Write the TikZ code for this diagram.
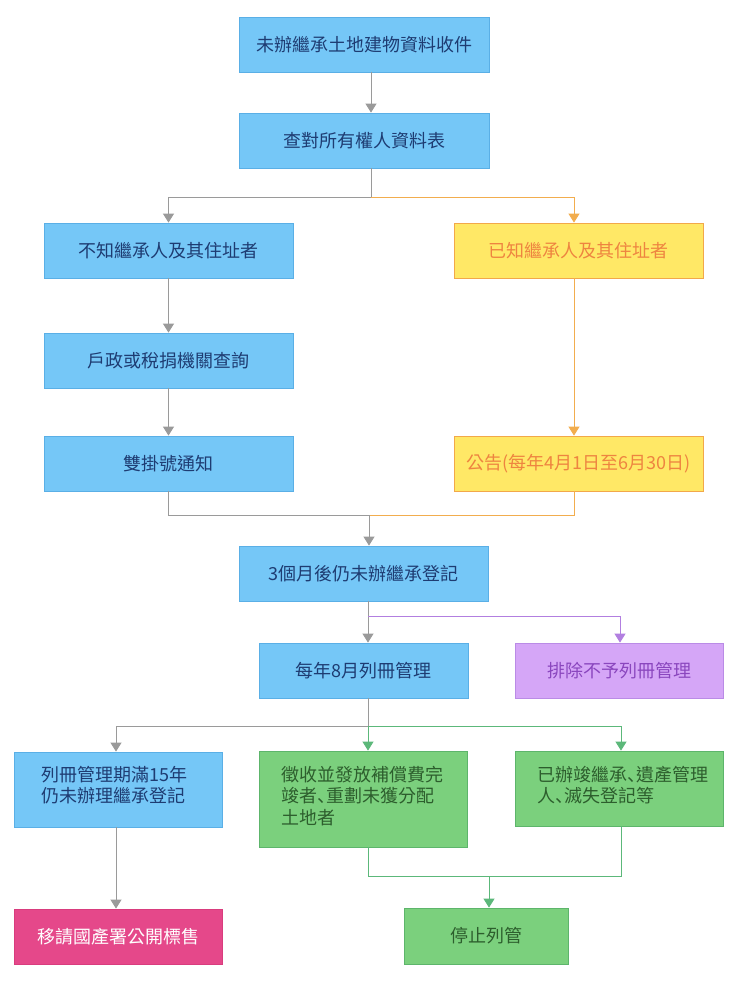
\documentclass[tikz,border=0pt]{standalone}
\usepackage{fontspec}
\setmainfont{Noto Sans CJK TC}
\newfontfamily\scf{Noto Sans CJK SC}
\usetikzlibrary{arrows.meta,calc}
\newcommand\dun{{\scf\makebox[0.5em][l]{、}}}
\definecolor{bfill}{HTML}{75C7F7}
\definecolor{bline}{HTML}{5AAFE6}
\definecolor{btext}{HTML}{1E3C72}
\definecolor{yfill}{HTML}{FFE866}
\definecolor{yline}{HTML}{F2A84A}
\definecolor{ytext}{HTML}{EE8440}
\definecolor{pfill}{HTML}{D5A6F7}
\definecolor{pline}{HTML}{BA8BE6}
\definecolor{ptext}{HTML}{8A46BE}
\definecolor{gfill}{HTML}{7BD07D}
\definecolor{gline}{HTML}{5DB56B}
\definecolor{gtext}{HTML}{2D5E2D}
\definecolor{kfill}{HTML}{E5488A}
\definecolor{kline}{HTML}{D93C7E}
\definecolor{cgray}{HTML}{9A9A9A}
\definecolor{corange}{HTML}{F2AD4E}
\definecolor{cpurple}{HTML}{B27FE0}
\definecolor{cgreen}{HTML}{5CB87A}
\begin{document}
\begin{tikzpicture}[x=1pt,y=-1pt,
  box/.style={draw, rectangle, line width=0.8pt, inner sep=0pt,
    font=\fontsize{18}{21.5}\selectfont},
  sz/.style 2 args={minimum width=#1pt, minimum height=#2pt},
  bluebox/.style={box, fill=bfill, draw=bline, text=btext},
  yelbox/.style={box, fill=yfill, draw=yline, text=ytext},
  purbox/.style={box, fill=pfill, draw=pline, text=ptext},
  grnbox/.style={box, fill=gfill, draw=gline, text=gtext},
  pinkbox/.style={box, fill=kfill, draw=kline, text=white},
  txt/.style={inner sep=0pt, anchor=north west, align=left,
    font=\fontsize{18}{21.5}\selectfont},
  tip/.style={-{Triangle[width=11pt,length=9pt]}},
  con/.style={line width=0.9pt},
  gcon/.style={con, draw=cgray},
  ocon/.style={con, draw=corange},
  pcon/.style={con, draw=cpurple},
  ncon/.style={con, draw=cgreen}]
\path[use as bounding box, fill=white] (0,0) rectangle (740,988);

% nodes
\node[bluebox, sz={250}{55}] (n1) at (364,44.5) {未辦繼承土地建物資料收件};
\node[bluebox, sz={250}{55}] (n2) at (364,140.5) {查對所有權人資料表};
\node[bluebox, sz={249}{55}] (n3) at (168.5,250.5) {不知繼承人及其住址者};
\node[yelbox, sz={249}{55}] (n4) at (578.5,250.5) {已知繼承人及其住址者};
\node[bluebox, sz={249}{55}] (n5) at (168.5,360.5) {戶政或稅捐機關查詢};
\node[bluebox, sz={249}{55}] (n6) at (168.5,463.5) {雙掛號通知};
\node[yelbox, sz={249}{55}] (n7) at (578.5,463.5) {公告(每年4月1日至6月30日)};
\node[bluebox, sz={249}{55}] (n8) at (363.5,573.5) {3個月後仍未辦繼承登記};
\node[bluebox, sz={209}{55}] (n9) at (363.5,670.5) {每年8月列冊管理};
\node[purbox, sz={208}{55}] (n10) at (619,670.5) {排除不予列冊管理};
\node[bluebox, sz={208}{75}] (n11) at (118,789.5) {};
\node[grnbox, sz={208}{96}] (n12) at (363,799) {};
\node[grnbox, sz={208}{75}] (n13) at (619,788.5) {};
\node[pinkbox, sz={208}{55}] (n14) at (118,936.5) {移請國產署公開標售};
\node[grnbox, sz={164}{56}] (n15) at (486,936) {停止列管};

\node[txt, text=btext] (t11) at ($(n11.north west)+(28,14)$) {列冊管理期滿15年\\仍未辦理繼承登記};
\node[txt, text=gtext] (t12) at ($(n12.north west)+(23,15)$) {徵收並發放補償費完\\竣者\dun 重劃未獲分配\\土地者};
\node[txt, text=gtext] (t13) at ($(n13.north west)+(23,15)$) {已辦竣繼承\dun 遺產管理\\人\dun 滅失登記等};

% junction coordinates
\coordinate (a) at (371,197);
\coordinate (ar) at (574,197);
\coordinate (b) at (369,515);
\coordinate (c) at (368,616);
\coordinate (cr) at (620,616);
\coordinate (d) at (368,726);
\coordinate (dl) at (116,726);
\coordinate (dr) at (621,726);
\coordinate (e) at (489,876);

% connectors
\draw[gcon, tip] (n1.south -| a) -- (n2.north -| a);
\draw[gcon] (n2.south -| a) -- (a);
\draw[gcon, tip] (a) -| (n3.north);
\draw[ocon, tip] (a) -- (ar) -- (n4.north -| ar);
\draw[gcon, tip] (n3.south) -- (n5.north);
\draw[gcon, tip] (n5.south) -- (n6.north);
\draw[ocon, tip] (n4.south -| ar) -- (n7.north -| ar);
\draw[gcon] (n6.south) |- (b);
\draw[ocon] (n7.south -| ar) |- (b);
\draw[gcon, tip] (b) -- (n8.north -| b);
\draw[gcon, tip] (n8.south -| c) -- (n9.north -| c);
\draw[pcon, tip] (c) -- (cr) -- (n10.north -| cr);
\draw[gcon] (n9.south -| d) -- (d);
\draw[gcon, tip] (d) -- (dl) -- (n11.north -| dl);
\draw[ncon, tip] (d) -- (n12.north -| d);
\draw[ncon, tip] (d) -- (dr) -- (n13.north -| dr);
\draw[gcon, tip] (n11.south -| dl) -- (n14.north -| dl);
\draw[ncon] (n12.south -| d) |- (e);
\draw[ncon] (n13.south -| dr) |- (e);
\draw[ncon, tip] (e) -- (n15.north -| e);
\end{tikzpicture}
\end{document}
